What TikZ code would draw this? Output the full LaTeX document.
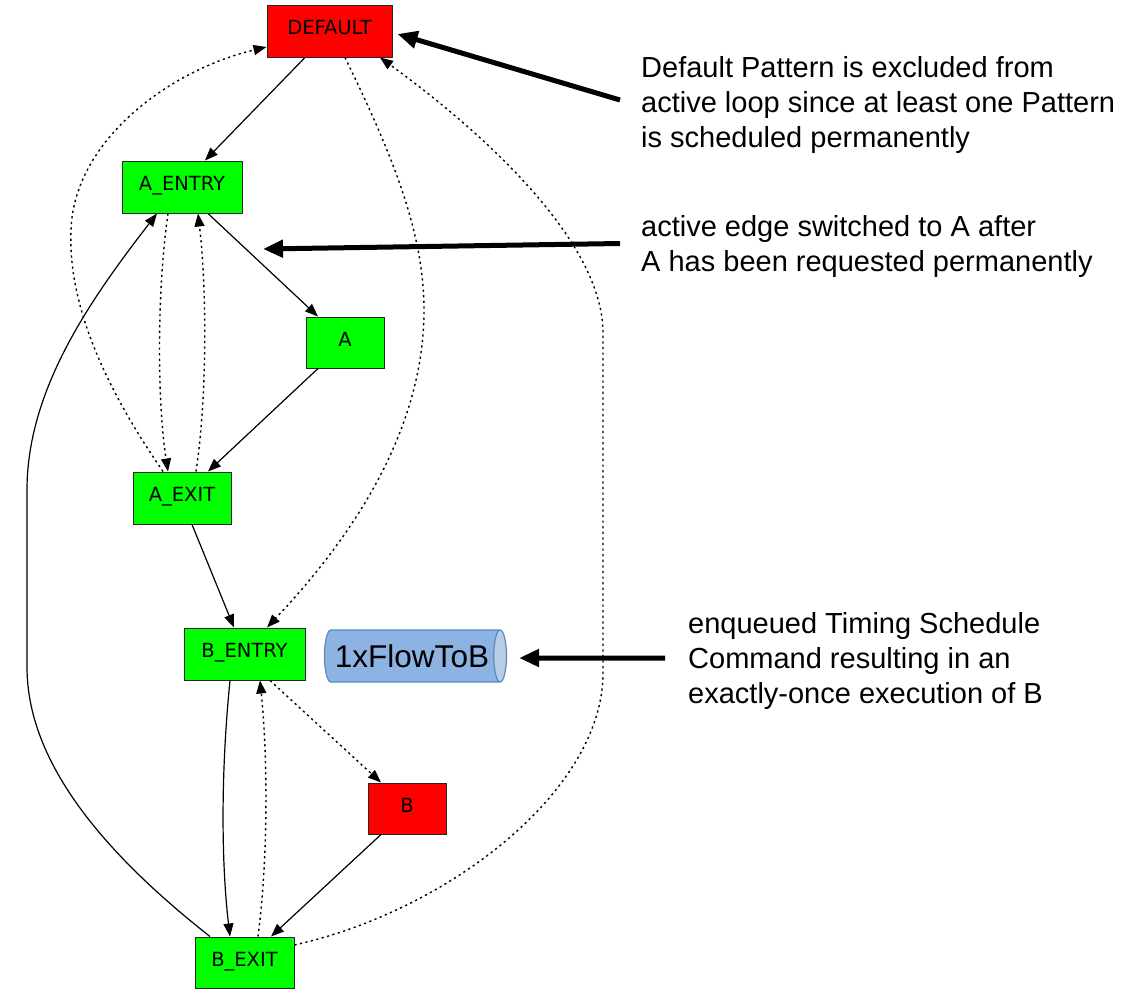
\documentclass[tikz,border=0pt]{standalone}
\usepackage{fontspec}
\setmainfont{Liberation Sans}
\newfontfamily\graphfont{DejaVu Sans}
\usetikzlibrary{arrows.meta,shapes.geometric,calc}
\definecolor{nodered}{HTML}{FF0000}
\definecolor{nodegreen}{HTML}{00FF00}
\definecolor{cylbody}{HTML}{8DB3E2}
\definecolor{cylend}{HTML}{B9CDE5}
\definecolor{cylline}{HTML}{5A88C0}
\begin{document}
\begin{tikzpicture}[x=1pt,y=-1pt,
  state/.style={draw=black!85, line width=1pt, rectangle, inner sep=0pt,
    text height=14.2pt, text depth=7pt,
    font=\graphfont\fontsize{19.5}{22}\selectfont},
  redstate/.style={state, fill=nodered},
  greenstate/.style={state, fill=nodegreen},
  flow/.style={line width=1.2pt, -{Triangle[length=13pt,width=10pt]}},
  dotflow/.style={flow, line width=1.4pt, dash pattern=on 2.2pt off 3.4pt},
  annot/.style={font=\fontsize{29}{35}\selectfont, align=left, anchor=base west, inner sep=0pt},
  pointer/.style={line width=5pt, -{Triangle[length=20pt,width=17pt]}}
]
\useasboundingbox (0,0) rectangle (1132,988);

% pattern states
\node[redstate,   minimum width=125pt, minimum height=52pt] (DEFAULT) at (329.5,31)   {DEFAULT};
\node[greenstate, minimum width=120pt, minimum height=52pt] (AENTRY)  at (182,187)    {A\_ENTRY};
\node[greenstate, minimum width=78pt,  minimum height=51pt] (A)       at (345,342.5)  {A};
\node[greenstate, minimum width=98pt,  minimum height=52pt] (AEXIT)   at (182,498)    {A\_EXIT};
\node[greenstate, minimum width=121pt, minimum height=52pt] (BENTRY)  at (244.5,654)  {B\_ENTRY};
\node[redstate,   minimum width=78pt,  minimum height=51pt] (B)       at (407,808.5)  {B};
\node[greenstate, minimum width=99pt,  minimum height=51pt] (BEXIT)   at (244.5,962.5){B\_EXIT};

% queued command
\node[cylinder, shape aspect=0.55, draw=cylline, line width=1.2pt,
      cylinder uses custom fill, cylinder body fill=cylbody, cylinder end fill=cylend,
      minimum width=52pt, minimum height=182pt, inner sep=0pt,
      font=\fontsize{31.5}{36}\selectfont] (QUEUE) at (412,656) {1xFlowToB};

% active edges
\draw[flow] ($(DEFAULT.south)+(-24.5,0)$) -- ($(AENTRY.north)+(23,0)$);
\draw[flow] ($(AENTRY.south)+(26,0)$) -- ($(A.north)+(-27,0)$);
\draw[flow] ($(A.south)+(-27,0)$) -- ($(AEXIT.north)+(26,0)$);
\draw[flow] ($(AEXIT.south)+(10,0)$) -- ($(BENTRY.north)+(-10.5,0)$);
\draw[flow] ($(BENTRY.south)+(-14.5,0)$) .. controls (221,770) and (221,860) .. ($(BEXIT.north)+(-14.5,0)$);
\draw[flow] ($(B.south)+(-26,0)$) -- ($(BEXIT.north)+(26.5,0)$);
\draw[flow] ($(BEXIT.north)+(-34.5,0)$) .. controls (100,850) and (27,760) .. (27,667)
  -- (27,490) .. controls (27,390) and (90,300) .. ($(AENTRY.south)+(-25,0)$);

% alternative edges
\draw[dotflow] ($(BENTRY.south)+(25.5,0)$) -- ($(B.north)+(-26,0)$);
\draw[dotflow] ($(BEXIT.north)+(13.5,0)$) .. controls (268,860) and (268,760) .. ($(BENTRY.south)+(15.5,0)$);
\draw[dotflow] ($(AENTRY.south)+(-14,0)$) .. controls (157,290) and (157,400) .. ($(AEXIT.north)+(-14,0)$);
\draw[dotflow] ($(AEXIT.north)+(14,0)$) .. controls (207,400) and (207,290) .. ($(AENTRY.south)+(16,0)$);
\draw[dotflow] ($(AEXIT.north)+(-19,0)$) .. controls (100,380) and (68,300) .. (71,230)
  .. controls (74,140) and (170,70) .. ($(DEFAULT.west)+(0,16)$);
\draw[dotflow] ($(DEFAULT.south)+(15.5,0)$) .. controls (390,150) and (424,230) .. (424,310)
  .. controls (424,440) and (340,550) .. ($(BENTRY.north)+(22.5,0)$);
\draw[dotflow] ($(BEXIT.east)+(0,-17.5)$) .. controls (450,910) and (603,790) .. (603,673)
  -- (603,333) .. controls (603,240) and (480,130) .. ($(DEFAULT.south)+(50.5,0)$);

% remarks (each placed by the baseline of its last line)
\node[annot] (N1) at (641,147.5) {Default Pattern is excluded from\\active loop since at least one Pattern\\is scheduled permanently};
\node[annot] (N2) at (641,271) {active edge switched to A after\\A has been requested permanently};
\node[annot] (N3) at (688,703) {enqueued Timing Schedule\\Command resulting in an\\exactly-once execution of B};

\coordinate (N1tail) at (620,100);
\coordinate (N2tail) at (620,243.5);
\coordinate (N2tip) at (263,249);
\coordinate (N3tail) at (665,658);
\draw[pointer] (N1tail) -- ($(DEFAULT.east)+(5,3)$);
\draw[pointer] (N2tail) -- (N2tip);
\draw[pointer] (N3tail) -- ($(QUEUE.east)+(12,2)$);
\end{tikzpicture}
\end{document}
